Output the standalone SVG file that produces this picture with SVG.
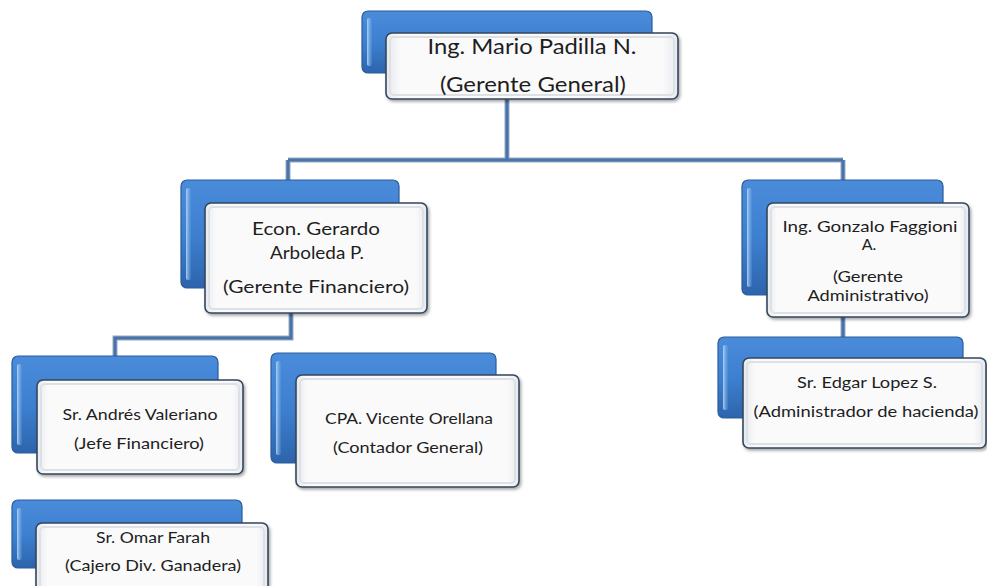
<svg xmlns="http://www.w3.org/2000/svg" width="987" height="586" viewBox="0 0 987 586">
<defs>
<linearGradient id="blue" x1="0" y1="0" x2="0" y2="1">
<stop offset="0" stop-color="#4A8CDA"/>
<stop offset="0.5" stop-color="#3E80D0"/>
<stop offset="1" stop-color="#2D64AC"/>
</linearGradient>
<linearGradient id="hl" x1="0" y1="0" x2="1" y2="0">
<stop offset="0" stop-color="#B9DAF8" stop-opacity="0.9"/>
<stop offset="1" stop-color="#6FA8E6" stop-opacity="0.2"/>
</linearGradient>
<linearGradient id="wh" x1="0" y1="0" x2="1" y2="0">
<stop offset="0" stop-color="#E6E8EC"/>
<stop offset="0.05" stop-color="#FAFAFB"/>
<stop offset="0.95" stop-color="#FAFAFB"/>
<stop offset="1" stop-color="#E6E8EC"/>
</linearGradient>
<filter id="sh" x="-10%" y="-10%" width="125%" height="130%">
<feDropShadow dx="1.5" dy="2" stdDeviation="1.5" flood-color="#000" flood-opacity="0.35"/>
</filter>
</defs>
<style>
.b{fill:url(#blue);stroke:#2A5C9C;stroke-width:1.2}
.h{fill:url(#hl)}
.w{fill:url(#wh);stroke:#33475F;stroke-width:1.6;filter:url(#sh)}
.wi{fill:none;stroke:#DDE1E6;stroke-width:2}
.c1{fill:none;stroke:#9CAABD;stroke-width:5}
.c2{fill:none;stroke:#4673AC;stroke-width:3}
text{font-family:Lato,"Open Sans","Liberation Sans",sans-serif;fill:#1E1E1E;text-anchor:middle}
.t20{font-size:21px}
.t17{font-size:17px}
.t15{font-size:16px}
.t14{font-size:15px}
</style>
<rect width="987" height="586" fill="#FFFFFF"/>
<g id="connectors">
<path class="c1" d="M507,99 V160 M288,160 H843 M288,160 V181 M843,160 V181 M291,313 V338 H115 V357 M843,317 V338"/>
<path class="c2" d="M507,99 V160 M288,160 H843 M288,160 V181 M843,160 V181 M291,313 V338 H115 V357 M843,317 V338"/>
</g>
<g id="node-gerente-general">
<rect class="b" x="362" y="11" width="290" height="62" rx="6"/>
<rect class="h" x="367" y="18" width="5" height="48" rx="2"/>
<rect class="w" x="386" y="33" width="292" height="66" rx="6"/>
<rect class="wi" x="390" y="37" width="284" height="58" rx="4"/>
<text class="t20" x="532" y="54" textLength="209" lengthAdjust="spacingAndGlyphs">Ing. Mario Padilla N.</text>
<text class="t20" x="533" y="92" textLength="186" lengthAdjust="spacingAndGlyphs">(Gerente General)</text>
</g>
<g id="node-gerente-financiero">
<rect class="b" x="181" y="180" width="218" height="108" rx="6"/>
<rect class="h" x="186" y="188" width="5" height="92" rx="2"/>
<rect class="w" x="205" y="203" width="222" height="110" rx="6"/>
<rect class="wi" x="209" y="207" width="214" height="102" rx="4"/>
<text class="t17" x="316" y="235" textLength="128" lengthAdjust="spacingAndGlyphs">Econ. Gerardo</text>
<text class="t17" x="317" y="259" textLength="94" lengthAdjust="spacingAndGlyphs">Arboleda P.</text>
<text class="t17" x="316" y="293" textLength="186" lengthAdjust="spacingAndGlyphs">(Gerente Financiero)</text>
</g>
<g id="node-gerente-administrativo">
<rect class="b" x="742" y="180" width="201" height="115" rx="6"/>
<rect class="h" x="747" y="188" width="5" height="99" rx="2"/>
<rect class="w" x="767" y="203" width="202" height="114" rx="6"/>
<rect class="wi" x="771" y="207" width="194" height="106" rx="4"/>
<text class="t15" x="870" y="232" textLength="175" lengthAdjust="spacingAndGlyphs">Ing. Gonzalo Faggioni</text>
<text class="t15" x="869" y="250">A.</text>
<text class="t15" x="868" y="282" textLength="70" lengthAdjust="spacingAndGlyphs">(Gerente</text>
<text class="t15" x="868" y="301" textLength="121" lengthAdjust="spacingAndGlyphs">Administrativo)</text>
</g>
<g id="node-jefe-financiero">
<rect class="b" x="12" y="356" width="206" height="97" rx="6"/>
<rect class="h" x="17" y="364" width="5" height="81" rx="2"/>
<rect class="w" x="37" y="380" width="206" height="94" rx="6"/>
<rect class="wi" x="41" y="384" width="198" height="86" rx="4"/>
<text class="t14" x="140" y="420" textLength="155" lengthAdjust="spacingAndGlyphs">Sr. Andrés Valeriano</text>
<text class="t14" x="139" y="449" textLength="130" lengthAdjust="spacingAndGlyphs">(Jefe Financiero)</text>
</g>
<g id="node-contador-general">
<rect class="b" x="271" y="353" width="225" height="110" rx="6"/>
<rect class="h" x="276" y="361" width="5" height="94" rx="2"/>
<rect class="w" x="296" y="375" width="223" height="112" rx="6"/>
<rect class="wi" x="300" y="379" width="215" height="104" rx="4"/>
<text class="t15" x="409" y="424" textLength="168" lengthAdjust="spacingAndGlyphs">CPA. Vicente Orellana</text>
<text class="t15" x="408" y="453" textLength="150" lengthAdjust="spacingAndGlyphs">(Contador General)</text>
</g>
<g id="node-cajero">
<rect class="b" x="12" y="500" width="230" height="68" rx="6"/>
<rect class="h" x="17" y="508" width="5" height="52" rx="2"/>
<rect class="w" x="36" y="523" width="232" height="80" rx="6"/>
<rect class="wi" x="40" y="527" width="224" height="72" rx="4"/>
<text class="t14" x="153" y="543" textLength="114" lengthAdjust="spacingAndGlyphs">Sr. Omar Farah</text>
<text class="t14" x="153" y="571" textLength="176" lengthAdjust="spacingAndGlyphs">(Cajero Div. Ganadera)</text>
</g>
<g id="node-administrador-hacienda">
<rect class="b" x="718" y="337" width="245" height="81" rx="6"/>
<rect class="h" x="723" y="345" width="5" height="65" rx="2"/>
<rect class="w" x="743" y="358" width="243" height="90" rx="6"/>
<rect class="wi" x="747" y="362" width="235" height="82" rx="4"/>
<text class="t15" x="867" y="388" textLength="140" lengthAdjust="spacingAndGlyphs">Sr. Edgar Lopez  S.</text>
<text class="t15" x="866" y="417" textLength="225" lengthAdjust="spacingAndGlyphs">(Administrador de hacienda)</text>
</g>
</svg>
